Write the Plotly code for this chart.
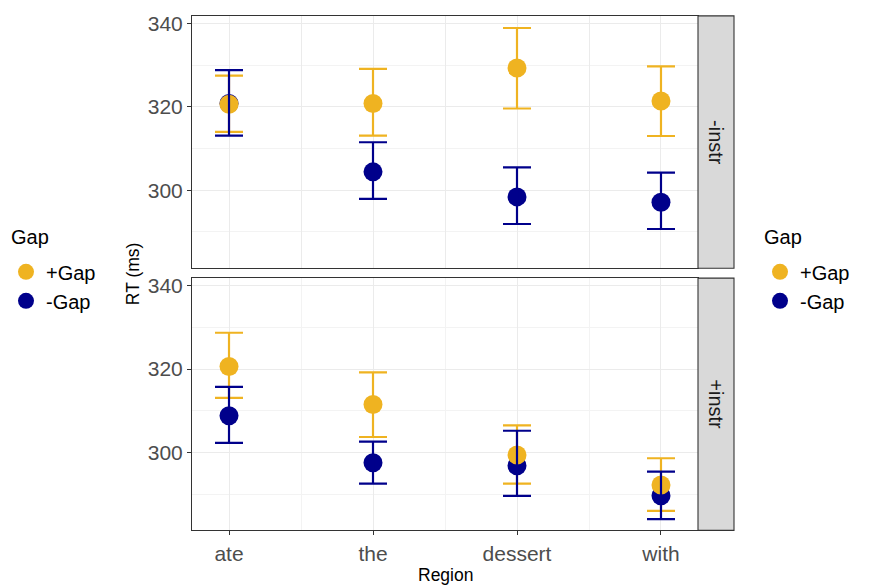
import plotly.graph_objects as go
from plotly.subplots import make_subplots

# ---------------- data ----------------
regions = ["ate", "the", "dessert", "with"]
panels = ["-instr", "+instr"]
gap_levels = ["+Gap", "-Gap"]
legend_title = "Gap"

# -instr panel
noinstr_plus_mean = [320.6, 320.8, 329.3, 321.4]
noinstr_plus_upper = [327.5, 329.1, 338.9, 329.7]
noinstr_plus_lower = [314.0, 313.1, 319.6, 313.0]
noinstr_minus_mean = [320.8, 304.4, 298.4, 297.1]
noinstr_minus_upper = [328.8, 311.5, 305.5, 304.2]
noinstr_minus_lower = [313.1, 297.9, 291.9, 290.7]

# +instr panel
instr_plus_mean = [320.6, 311.5, 299.4, 292.2]
instr_plus_upper = [328.7, 319.2, 306.5, 298.6]
instr_plus_lower = [313.1, 303.7, 292.5, 286.0]
instr_minus_mean = [308.8, 297.5, 296.8, 289.6]
instr_minus_upper = [315.7, 302.6, 305.2, 295.4]
instr_minus_lower = [302.3, 292.5, 289.6, 284.0]

y_ticks = [300, 320, 340]

# ---------------- style ----------------
W, H = 872, 587
FONT = "Liberation Sans, Arial, sans-serif"
YELLOW = "#EFB321"
NAVY = "#00008B"
TICK_COL = "#4D4D4D"
BORDER = "#333333"
MS = 19
TICK_SIZE = 21

def px_x(v):
    return v / W

def px_y(v):
    return 1 - v / H

left, right = 192, 698
top_panel = (12, 266)
bot_panel = (276, 530)
strip_r = 734

fig = make_subplots(rows=2, cols=1, shared_xaxes=True, vertical_spacing=0.02)

xpos = [i + 1 for i in range(len(regions))]

panel_data = [
    (1, noinstr_plus_mean, noinstr_plus_upper, noinstr_plus_lower,
        noinstr_minus_mean, noinstr_minus_upper, noinstr_minus_lower),
    (2, instr_plus_mean, instr_plus_upper, instr_plus_lower,
        instr_minus_mean, instr_minus_upper, instr_minus_lower),
]

def err(mean, up, lo, color):
    return dict(type="data", symmetric=False,
                array=[u - m for u, m in zip(up, mean)],
                arrayminus=[m - l for m, l in zip(mean, lo)],
                color=color, thickness=2.2, width=14)

for row, pm, pu, pl, mm, mu, ml in panel_data:
    fig.add_trace(go.Scatter(x=xpos, y=pm, mode="markers",
                             marker=dict(opacity=0, size=1, color=YELLOW),
                             error_y=err(pm, pu, pl, YELLOW),
                             showlegend=False, hoverinfo="skip"), row=row, col=1)
    fig.add_trace(go.Scatter(x=xpos, y=mm, mode="markers",
                             marker=dict(size=MS, color=NAVY),
                             showlegend=False), row=row, col=1)
    fig.add_trace(go.Scatter(x=xpos, y=pm, mode="markers",
                             marker=dict(size=MS, color=YELLOW),
                             showlegend=False), row=row, col=1)
    fig.add_trace(go.Scatter(x=xpos, y=mm, mode="markers",
                             marker=dict(opacity=0, size=1, color=NAVY),
                             error_y=err(mm, mu, ml, NAVY),
                             showlegend=False, hoverinfo="skip"), row=row, col=1)

# legend dummies (two identical legends)
for lg in ["legend", "legend2"]:
    for name, col in zip(gap_levels, [YELLOW, NAVY]):
        fig.add_trace(go.Scatter(x=[None], y=[None], mode="markers", name=name,
                                 marker=dict(size=MS, color=col),
                                 legend=lg, showlegend=True), row=1, col=1)

xdom = [px_x(left), px_x(right)]
xrange_ = [0.743, 4.257]
yrange_ = [281.3, 341.8]

common_x = dict(range=xrange_, domain=xdom, showgrid=True, gridcolor="#EBEBEB",
                gridwidth=1.1, zeroline=False, showline=True, linecolor=BORDER,
                linewidth=1.1, mirror=True,
                minor=dict(tick0=0.5, dtick=1, showgrid=True, gridcolor="#F3F3F3",
                           gridwidth=1))
fig.update_xaxes(**common_x)
fig.update_xaxes(row=1, col=1, showticklabels=False, ticks="")
fig.update_xaxes(row=2, col=1, tickmode="array", tickvals=xpos, ticktext=regions,
                 ticks="outside", ticklen=4, tickwidth=1.1, tickcolor=BORDER,
                 tickfont=dict(family=FONT, size=TICK_SIZE, color=TICK_COL))

common_y = dict(range=yrange_, tickmode="array", tickvals=y_ticks,
                showgrid=True, gridcolor="#EBEBEB", gridwidth=1.1, zeroline=False,
                showline=True, linecolor=BORDER, linewidth=1.1, mirror=True,
                ticks="outside", ticklen=4, tickwidth=1.1, tickcolor=BORDER,
                tickfont=dict(family=FONT, size=TICK_SIZE, color=TICK_COL),
                minor=dict(tick0=0, dtick=10, showgrid=True, gridcolor="#F3F3F3",
                           gridwidth=1))
fig.update_yaxes(**common_y)
fig.update_yaxes(row=1, col=1, domain=[px_y(top_panel[1]), px_y(top_panel[0])])
fig.update_yaxes(row=2, col=1, domain=[px_y(bot_panel[1]), px_y(bot_panel[0])])

shapes = []
annotations = []
for (t, b), label in zip([top_panel, bot_panel], panels):
    shapes.append(dict(type="rect", xref="paper", yref="paper",
                       x0=px_x(right), x1=px_x(strip_r), y0=px_y(b), y1=px_y(t),
                       fillcolor="#D9D9D9", line=dict(color=BORDER, width=1.1),
                       layer="above"))
    annotations.append(dict(text=label, xref="paper", yref="paper",
                            x=px_x((right + strip_r) / 2), y=px_y((t + b) / 2),
                            showarrow=False, textangle=90,
                            font=dict(family=FONT, size=20, color="#1A1A1A"),
                            xanchor="center", yanchor="middle"))

annotations.append(dict(text="RT (ms)", xref="paper", yref="paper",
                        x=px_x(133), y=px_y(272), showarrow=False, textangle=-90,
                        font=dict(family=FONT, size=17.5, color="black"),
                        xanchor="center", yanchor="middle"))
annotations.append(dict(text="Region", xref="paper", yref="paper",
                        x=px_x((left + right) / 2), y=px_y(575), showarrow=False,
                        font=dict(family=FONT, size=17.5, color="black"),
                        xanchor="center", yanchor="middle"))
# legend titles
for lx in [9, 762]:
    annotations.append(dict(text=legend_title, xref="paper", yref="paper",
                            x=px_x(lx), y=px_y(235), showarrow=False,
                            font=dict(family=FONT, size=20, color="black"),
                            xanchor="left", yanchor="middle"))

legend_style = dict(font=dict(family=FONT, size=20, color="black"),
                    bgcolor="rgba(0,0,0,0)", borderwidth=0, tracegroupgap=0,
                    xanchor="left", yanchor="top", itemsizing="trace")

fig.update_layout(
    width=W, height=H,
    margin=dict(l=0, r=0, t=0, b=0),
    plot_bgcolor="white", paper_bgcolor="white",
    shapes=shapes, annotations=annotations,
    legend=dict(x=px_x(6), y=px_y(250), **legend_style),
    legend2=dict(x=px_x(760), y=px_y(250), **legend_style),
    showlegend=True,
)

fig.write_html("out.html", config={"displayModeBar": False},
               post_script="document.body.style.margin='0px';")
